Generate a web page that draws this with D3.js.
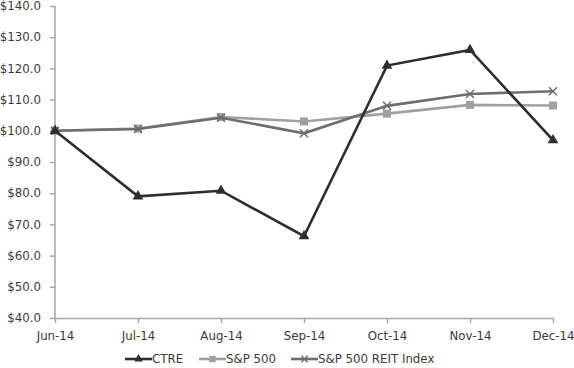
<!DOCTYPE html>
<html><head><meta charset="utf-8">
<script src="https://cdn.jsdelivr.net/npm/d3@7"></script>
<style>body{margin:0;background:#fff}svg{display:block}text{font-family:"DejaVu Sans",Verdana,sans-serif;font-size:11.8px;fill:#3a3a3a}</style>
</head><body><svg id="c" width="574" height="368"></svg>
<script>
const categories = ["Jun-14","Jul-14","Aug-14","Sep-14","Oct-14","Nov-14","Dec-14"];
const ctre = [100.0, 79.0, 80.8, 66.2, 120.9, 125.9, 97.0];
const sp500 = [100.0, 100.7, 104.4, 103.0, 105.5, 108.3, 108.1];
const reit = [100.0, 100.6, 104.2, 99.2, 108.0, 111.8, 112.7];
const yTicks = [40,50,60,70,80,90,100,110,120,130,140];
const seriesNames = ["CTRE","S&P 500","S&P 500 REIT Index"];

const svg = d3.select("#c");
const x = d3.scalePoint().domain(categories).range([55, 553]);
const y = d3.scaleLinear().domain([40, 140]).range([318, 6]);
const axisColor = "#a6a6a6";
const font = '"DejaVu Sans",Verdana,sans-serif';

const yAxis = svg.append("g").attr("transform","translate(55,0)")
  .call(d3.axisLeft(y).tickValues(yTicks).tickSize(5).tickPadding(9).tickFormat(d => "$" + d.toFixed(1)));
const xAxis = svg.append("g").attr("transform","translate(0,318)")
  .call(d3.axisBottom(x).tickSize(5).tickSizeOuter(0).tickPadding(9));
[yAxis, xAxis].forEach(a => {
  a.selectAll("path,line").attr("stroke", axisColor).attr("stroke-width", 1.5);
  a.selectAll("text").attr("fill","#3a3a3a").style("font-size","11.8px").style("font-family",font);
});
yAxis.select(".domain").attr("d","M0,6V318");

const series = [
  {name: seriesNames[0], values: ctre, color: "#2e2e2e", marker: "tri"},
  {name: seriesNames[1], values: sp500, color: "#a0a0a0", marker: "sq"},
  {name: seriesNames[2], values: reit, color: "#6e6e6e", marker: "x"}
];
const line = d3.line().x((d,i) => x(categories[i])).y(d => y(d));

function drawMarker(g, type, cx, cy, color, s) {
  if (type === "tri") {
    g.append("path").attr("d", d3.symbol(d3.symbolTriangle, 50*s*s)()).attr("transform",`translate(${cx},${cy})`).attr("fill", color);
  } else if (type === "sq") {
    g.append("rect").attr("x", cx-4*s).attr("y", cy-4*s).attr("width", 8*s).attr("height", 8*s).attr("fill", color);
  } else {
    const r = 4*s;
    g.append("path").attr("d",`M${cx-r},${cy-r}L${cx+r},${cy+r}M${cx-r},${cy+r}L${cx+r},${cy-r}`).attr("stroke", color).attr("stroke-width", 1.5).attr("fill","none");
  }
}

[series[1], series[2], series[0]].forEach(s => {
  const g = svg.append("g");
  g.append("path").datum(s.values).attr("d", line).attr("fill","none").attr("stroke", s.color).attr("stroke-width", 2.6);
  s.values.forEach((v,i) => drawMarker(g, s.marker, x(categories[i]), y(v), s.color, 1));
});

const legendX = [125, 199, 291];
series.forEach((s, i) => {
  const g = svg.append("g");
  const lx = legendX[i], ly = 359;
  g.append("line").attr("x1", lx).attr("x2", lx+27).attr("y1", ly).attr("y2", ly).attr("stroke", s.color).attr("stroke-width", 2.6);
  drawMarker(g, s.marker, lx+13.5, ly, s.color, 0.8);
  g.append("text").attr("x", lx+27).attr("y", ly+4.2).text(s.name);
});
</script></body></html>
